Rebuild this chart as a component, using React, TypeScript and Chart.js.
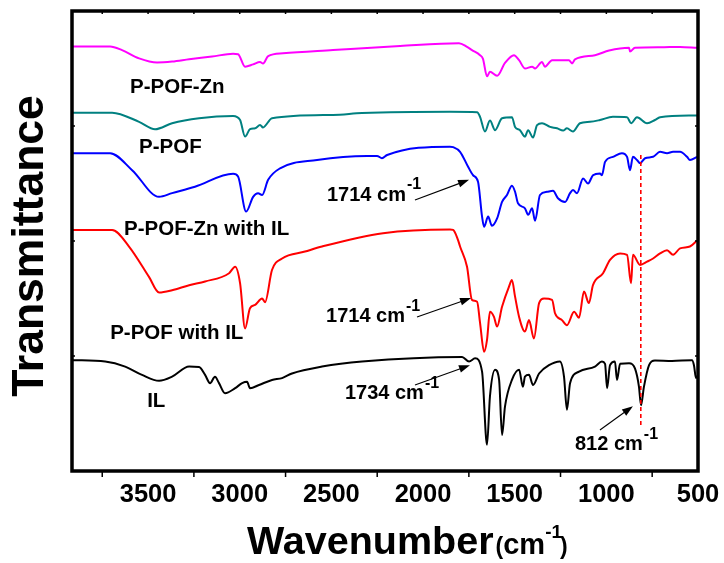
import React, { useEffect, useRef } from 'react';
import { Chart, registerables } from 'chart.js';

Chart.register(...registerables);

const FONT = '"Liberation Sans", Arial, Helvetica, sans-serif';

// ---- Data (wavenumber in cm-1, transmittance in arbitrary offset units) ----
const pofZnWn = [3915, 3707, 3642, 3549, 3451, 3369, 3276, 3151, 3036, 3009, 2971, 2927, 2889, 2873, 2845, 2764, 2491, 2125, 1804, 1760, 1733, 1689, 1673, 1651, 1635, 1596, 1553, 1504, 1476, 1444, 1405, 1389, 1351, 1335, 1296, 1204, 1187, 1171, 1062, 985, 876, 871, 844, 707, 598, 505];
const pofZnT = [92.3, 92.3, 91.5, 89.7, 88.8, 89.0, 89.5, 90.1, 90.7, 90.6, 87.9, 88.4, 88.9, 88.6, 90.2, 90.8, 91.5, 92.4, 93.0, 92.2, 91.5, 90.4, 89.6, 85.8, 86.8, 85.9, 88.7, 90.4, 89.3, 87.5, 87.9, 87.5, 88.9, 87.9, 89.3, 89.3, 88.6, 89.5, 90.4, 91.4, 92.0, 91.2, 92.0, 92.1, 92.2, 92.0];

const pofWn = [3915, 3696, 3549, 3462, 3369, 3222, 3036, 2998, 2971, 2944, 2916, 2889, 2873, 2824, 2491, 2333, 1853, 1705, 1689, 1662, 1635, 1607, 1569, 1515, 1498, 1471, 1444, 1427, 1400, 1378, 1351, 1307, 1269, 1236, 1215, 1182, 1144, 1089, 1035, 964, 887, 865, 833, 778, 735, 707, 505];
const pofT = [77.9, 77.9, 75.9, 74.3, 75.6, 76.7, 77.2, 76.3, 72.7, 74.3, 74.5, 75.2, 74.7, 76.7, 77.4, 77.8, 78.1, 78.0, 77.0, 73.8, 76.2, 74.1, 76.7, 76.9, 74.8, 74.1, 72.7, 74.1, 72.5, 75.2, 75.6, 74.8, 74.5, 74.0, 74.5, 73.8, 75.6, 75.9, 76.3, 77.0, 76.9, 75.6, 76.9, 75.6, 76.3, 76.9, 77.3];

const pofZnIlWn = [3915, 3707, 3587, 3440, 3369, 3244, 3036, 3009, 2965, 2927, 2900, 2878, 2845, 2780, 2578, 2305, 2251, 2224, 2196, 1853, 1836, 1798, 1755, 1727, 1700, 1678, 1667, 1645, 1624, 1596, 1569, 1542, 1515, 1498, 1482, 1444, 1427, 1405, 1389, 1362, 1324, 1291, 1264, 1225, 1198, 1182, 1160, 1127, 1100, 1073, 1035, 1024, 1007, 964, 915, 887, 871, 855, 833, 816, 789, 745, 707, 669, 636, 598, 560, 544, 505];
const pofZnIlT = [69.1, 69.1, 65.4, 59.6, 60.4, 61.8, 64.6, 64.0, 56.4, 59.6, 60.4, 60.0, 63.3, 65.8, 67.6, 68.5, 68.5, 68.0, 68.7, 70.5, 70.4, 69.4, 66.2, 64.3, 62.9, 55.3, 53.1, 55.3, 53.3, 54.9, 58.5, 60.0, 62.0, 60.7, 58.2, 57.1, 55.7, 57.1, 54.4, 60.0, 60.7, 60.9, 59.3, 58.5, 60.4, 61.1, 60.4, 63.6, 62.5, 64.3, 64.7, 64.3, 67.2, 68.3, 69.1, 68.3, 65.4, 68.3, 67.6, 66.9, 68.0, 68.3, 69.4, 69.1, 69.4, 69.4, 68.3, 67.6, 68.3];

const pofIlWn = [3915, 3696, 3604, 3495, 3440, 3369, 3276, 3189, 3058, 3025, 2998, 2971, 2944, 2916, 2878, 2862, 2824, 2769, 2644, 2551, 2218, 1853, 1836, 1809, 1798, 1760, 1733, 1705, 1689, 1667, 1651, 1635, 1613, 1596, 1569, 1531, 1515, 1498, 1476, 1444, 1422, 1395, 1367, 1340, 1296, 1280, 1242, 1215, 1176, 1149, 1122, 1095, 1073, 1018, 980, 925, 887, 865, 855, 816, 778, 745, 707, 669, 636, 598, 544, 505];
const pofIlT = [52.4, 52.4, 48.8, 42.2, 38.8, 39.3, 40.4, 41.2, 43.0, 44.4, 40.8, 31.0, 35.4, 36.1, 37.5, 36.7, 43.7, 46.2, 47.7, 48.8, 51.7, 52.5, 52.4, 50.2, 48.8, 44.4, 37.2, 36.8, 32.2, 25.9, 28.5, 34.6, 33.5, 31.4, 35.7, 40.1, 41.5, 37.9, 33.5, 30.3, 32.8, 28.8, 36.5, 37.5, 37.2, 34.3, 32.8, 31.7, 34.6, 33.3, 39.0, 36.5, 40.4, 43.0, 45.9, 47.3, 47.0, 40.8, 47.0, 44.8, 45.5, 46.2, 47.3, 48.0, 47.0, 48.4, 48.8, 50.1];

const ilWn = [3915, 3734, 3625, 3533, 3440, 3369, 3276, 3222, 3189, 3162, 3135, 3113, 3080, 3025, 2987, 2960, 2944, 2895, 2824, 2769, 2715, 2551, 2333, 1787, 1749, 1716, 1678, 1651, 1635, 1607, 1585, 1569, 1553, 1515, 1476, 1455, 1444, 1422, 1400, 1367, 1313, 1253, 1231, 1215, 1198, 1149, 1062, 1024, 1007, 996, 980, 953, 942, 925, 876, 844, 822, 811, 795, 767, 735, 642, 533, 522, 511, 505];
const ilT = [24.1, 23.8, 22.7, 20.9, 19.6, 20.5, 22.7, 22.6, 20.9, 19.1, 20.5, 19.1, 16.9, 18.0, 19.1, 19.4, 18.0, 18.7, 19.8, 20.2, 21.2, 22.7, 23.8, 24.8, 23.8, 24.5, 21.6, 5.7, 16.2, 22.0, 19.8, 7.8, 14.0, 19.8, 22.0, 18.3, 20.5, 20.9, 18.7, 21.2, 23.0, 23.8, 20.5, 13.3, 19.1, 21.6, 22.7, 23.8, 23.3, 18.0, 23.0, 23.8, 19.8, 23.3, 23.4, 22.3, 18.3, 14.3, 18.3, 23.0, 24.0, 23.9, 24.1, 23.0, 20.2, 20.7];

const seriesNames = ['P-POF-Zn', 'P-POF', 'P-POF-Zn with IL', 'P-POF with IL', 'IL'];
const seriesColors = ['#FF00FF', '#008080', '#0000FF', '#FF0000', '#000000'];
const seriesWn = [pofZnWn, pofWn, pofZnIlWn, pofIlWn, ilWn];
const seriesT = [pofZnT, pofT, pofZnIlT, pofIlT, ilT];

const X_MIN = 500;
const X_MAX = 3915;
const X_TICKS = [500, 1000, 1500, 2000, 2500, 3000, 3500];
const X_MINOR = [750, 1250, 1750, 2250, 2750, 3250, 3750];
const X_TOP = [750, 1000, 1250, 1500, 1750, 2000, 2250, 2500, 2750, 3000, 3250, 3500, 3750];
const Y_MIN = 0;
const Y_MAX = 100;
const Y_TICKS = [25, 50, 75];

// Curve labels (anchor = left edge, vertical middle, in data units)
const labelTexts = ['P-POF-Zn', 'P-POF', 'P-POF-Zn with IL', 'P-POF with IL', 'IL'];
const labelWn = [3598, 3549, 3631, 3707, 3505];
const labelT = [83.3, 70.4, 52.6, 30.0, 15.1];

// Peak annotations
const peakValues = ['1714', '1714', '1734', '812'];
const peakTextWn = [2524, 2529, 2426, 1171];
const peakTextT = [60.0, 33.5, 16.9, 5.7];
const arrowFromWn = [2044, 2033, 2044, 1035];
const arrowFromT = [58.9, 33.5, 18.7, 8.9];
const arrowToWn = [1749, 1738, 1744, 855];
const arrowToT = [63.3, 37.6, 23.0, 14.1];

const markerWn = 812;
const markerTopT = 68.7;
const markerBottomT = 9.6;

function drawArrow(ctx: CanvasRenderingContext2D, x1: number, y1: number, x2: number, y2: number) {
  ctx.strokeStyle = '#000';
  ctx.fillStyle = '#000';
  ctx.lineWidth = 1.1;
  const ang = Math.atan2(y2 - y1, x2 - x1);
  const L = 11;
  const W = 3.8;
  ctx.beginPath();
  ctx.moveTo(x1, y1);
  ctx.lineTo(x2 - L * 0.6 * Math.cos(ang), y2 - L * 0.6 * Math.sin(ang));
  ctx.stroke();
  ctx.beginPath();
  ctx.moveTo(x2, y2);
  ctx.lineTo(x2 - L * Math.cos(ang) + W * Math.sin(ang), y2 - L * Math.sin(ang) - W * Math.cos(ang));
  ctx.lineTo(x2 - L * Math.cos(ang) - W * Math.sin(ang), y2 - L * Math.sin(ang) + W * Math.cos(ang));
  ctx.closePath();
  ctx.fill();
}

function drawCm(ctx: CanvasRenderingContext2D, value: string, x: number, y: number, size: number) {
  ctx.fillStyle = '#000';
  ctx.textAlign = 'left';
  ctx.textBaseline = 'middle';
  ctx.font = `bold ${size}px ${FONT}`;
  const main = `${value} cm`;
  ctx.fillText(main, x, y);
  const w = ctx.measureText(main).width;
  ctx.font = `bold ${Math.round(size * 0.78)}px ${FONT}`;
  ctx.fillText('-1', x + w + 1, y - size * 0.5);
}

const overlay = {
  id: 'overlay',
  afterDatasetsDraw(chart: any) {
    const { ctx, chartArea: a, scales } = chart;
    const xs = scales.x;
    const ys = scales.y;
    const px = (v: number) => xs.getPixelForValue(v);
    const py = (v: number) => ys.getPixelForValue(v);
    ctx.save();

    // dashed marker line
    ctx.strokeStyle = '#FF0000';
    ctx.lineWidth = 1.6;
    ctx.setLineDash([4, 3]);
    ctx.beginPath();
    ctx.moveTo(px(markerWn), py(markerTopT));
    ctx.lineTo(px(markerWn), py(markerBottomT));
    ctx.stroke();
    ctx.setLineDash([]);

    // arrows
    for (let i = 0; i < peakValues.length; i++) {
      drawArrow(ctx, px(arrowFromWn[i]), py(arrowFromT[i]), px(arrowToWn[i]), py(arrowToT[i]));
    }

    // frame
    ctx.strokeStyle = '#000';
    ctx.lineWidth = 3.5;
    ctx.strokeRect(a.left, a.top, a.right - a.left, a.bottom - a.top);

    // tick marks
    ctx.lineWidth = 1.5;
    ctx.beginPath();
    for (const v of X_MINOR) {
      const x = px(v);
      ctx.moveTo(x, a.bottom);
      ctx.lineTo(x, a.bottom + 6);
    }
    for (const v of X_TOP) {
      const x = px(v);
      ctx.moveTo(x, a.top);
      ctx.lineTo(x, a.top + 3);
    }
    for (const v of Y_TICKS) {
      const y = py(v);
      ctx.moveTo(a.left, y);
      ctx.lineTo(a.left + 3, y);
      ctx.moveTo(a.right, y);
      ctx.lineTo(a.right - 3, y);
    }
    ctx.stroke();

    // curve labels
    ctx.fillStyle = '#000';
    ctx.textAlign = 'left';
    ctx.textBaseline = 'middle';
    ctx.font = `bold 20.5px ${FONT}`;
    for (let i = 0; i < labelTexts.length; i++) {
      ctx.fillText(labelTexts[i], px(labelWn[i]), py(labelT[i]));
    }

    // peak labels
    for (let i = 0; i < peakValues.length; i++) {
      drawCm(ctx, peakValues[i], px(peakTextWn[i]), py(peakTextT[i]), 20);
    }

    // y title
    ctx.save();
    ctx.translate(43, (a.top + a.bottom) / 2 + 5);
    ctx.rotate(-Math.PI / 2);
    ctx.textAlign = 'center';
    ctx.textBaseline = 'alphabetic';
    ctx.font = `bold 44.5px ${FONT}`;
    ctx.fillText('Transmittance', 0, 0);
    ctx.restore();

    // x title
    let x = a.left + 175;
    const base = 554;
    ctx.textAlign = 'left';
    ctx.textBaseline = 'alphabetic';
    const parts: [string, number, number, number][] = [
      ['Wavenumber', 39.5, 0, 2],
      ['(', 23, 0, 0],
      ['cm', 29, 0, 0],
      ['-1', 19, -16, -2],
      [')', 23, 0, 0],
    ];
    for (const [t, s, dy, gap] of parts) {
      ctx.font = `bold ${s}px ${FONT}`;
      ctx.fillText(t, x, base + dy);
      x += ctx.measureText(t).width + gap;
    }

    ctx.restore();
  },
};

export default function App() {
  const canvasRef = useRef<HTMLCanvasElement | null>(null);

  useEffect(() => {
    const canvas = canvasRef.current;
    if (!canvas) return;
    const chart = new Chart(canvas, {
      type: 'line',
      data: {
        datasets: seriesNames.map((name, k) => ({
          label: name,
          data: seriesWn[k].map((w, i) => ({ x: w, y: seriesT[k][i] })),
          borderColor: seriesColors[k],
          backgroundColor: seriesColors[k],
          borderWidth: 2,
          pointRadius: 0,
          cubicInterpolationMode: 'monotone',
          fill: false,
        })),
      },
      options: {
        animation: false,
        responsive: false,
        devicePixelRatio: 1,
        layout: { padding: { top: 11, right: 26, left: 0, bottom: 0 } },
        plugins: { legend: { display: false }, tooltip: { enabled: false } },
        scales: {
          x: {
            type: 'linear',
            reverse: true,
            min: X_MIN,
            max: X_MAX,
            afterBuildTicks: (axis: any) => {
              axis.ticks = X_TICKS.map((v) => ({ value: v }));
            },
            afterFit: (axis: any) => {
              axis.height = 92;
            },
            ticks: {
              color: '#000',
              font: { family: FONT, size: 25.5, weight: 'bold' },
              padding: 9,
              maxRotation: 0,
              autoSkip: false,
              callback: (v: any) => String(v),
            },
            grid: { display: false, drawTicks: false },
            border: { display: false },
          },
          y: {
            type: 'linear',
            min: Y_MIN,
            max: Y_MAX,
            afterFit: (axis: any) => {
              axis.width = 72;
            },
            ticks: { display: false },
            grid: { display: false, drawTicks: false },
            border: { display: false },
          },
        },
      } as any,
      plugins: [overlay],
    });
    return () => chart.destroy();
  }, []);

  return (
    <div style={{ position: 'absolute', left: 0, top: 0, width: 724, height: 563, background: '#fff' }}>
      <canvas ref={canvasRef} width={724} height={563} style={{ display: 'block' }} />
    </div>
  );
}
